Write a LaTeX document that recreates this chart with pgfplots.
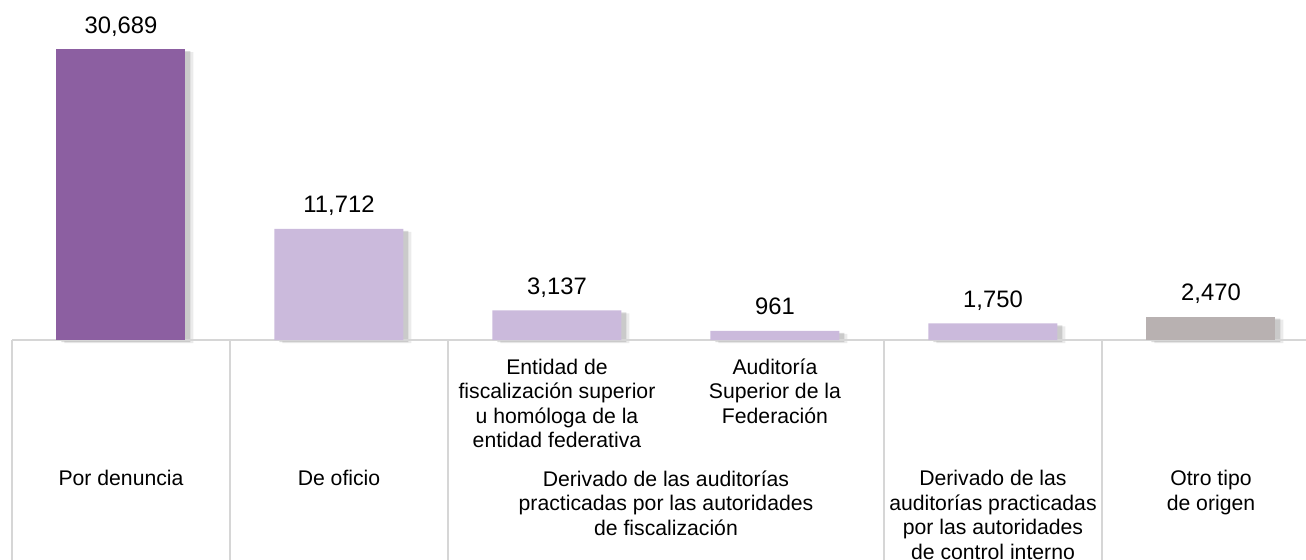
\documentclass[border=0pt]{standalone}
\usepackage{pgfplots}
\pgfplotsset{compat=1.18}
\usepackage{fontspec}
\setmainfont{Liberation Sans}
\definecolor{darkp}{HTML}{8C5FA1}
\definecolor{lightp}{HTML}{CBBADC}
\definecolor{greyb}{HTML}{B8B1B1}
\definecolor{linec}{HTML}{D6D6D6}
\tikzset{cat/.style={font=\fontsize{10.6}{12.25}\selectfont, align=center, inner sep=0pt, text=black}}
\begin{document}
\begin{tikzpicture}
\begin{axis}[
  scale only axis, width=647pt, height=170pt,
  xmin=-0.5, xmax=5.436, ymin=0, ymax=35857,
  axis lines=none, ticks=none, clip=false,
  ybar, bar width=64.5pt,
  /pgf/number format/.cd, 1000 sep={,}, assume math mode=true, fixed,
]
\coordinate (O) at (axis cs:-0.5,0);
\coordinate (T) at (axis cs:5.436,35857);
% shadows
\addplot[ybar, bar shift=4pt, yshift=-1.5pt, fill=black, opacity=0.08, draw=none]
  coordinates {(0,30689)(1,11712)(2,3137)(3,961)(4,1750)(5,2470)};
\addplot[ybar, bar shift=2.5pt, yshift=-1pt, fill=black, opacity=0.14, draw=none]
  coordinates {(0,30689)(1,11712)(2,3137)(3,961)(4,1750)(5,2470)};
% table lines
\draw[linec, line width=1pt] (axis cs:-0.5,0) -- (axis cs:5.436,0);
\pgfplotsinvokeforeach{-0.5,0.5,1.5,3.5,4.5}{
  \draw[linec, line width=1pt] (axis cs:#1,0) -- ([yshift=-110pt]axis cs:#1,0);
}
% bars
\addplot[ybar, bar shift=0pt, fill=darkp, draw=none,
  nodes near coords, every node near coord/.append style={anchor=base, yshift=8pt, font=\fontsize{11.9}{14}\selectfont, text=black}]
  coordinates {(0,30689)};
\addplot[ybar, bar shift=0pt, fill=lightp, draw=none,
  nodes near coords, every node near coord/.append style={anchor=base, yshift=8pt, font=\fontsize{11.9}{14}\selectfont, text=black}]
  coordinates {(1,11712)(2,3137)(3,961)(4,1750)};
\addplot[ybar, bar shift=0pt, fill=greyb, draw=none,
  nodes near coords, every node near coord/.append style={anchor=base, yshift=8pt, font=\fontsize{11.9}{14}\selectfont, text=black}]
  coordinates {(5,2470)};
% category labels
\node[cat, anchor=north] at ([yshift=-65pt]axis cs:0,0) {Por denuncia};
\node[cat, anchor=north] at ([yshift=-65pt]axis cs:1,0) {De oficio};
\node[cat, anchor=north] at ([yshift=-9.2pt]axis cs:2,0) {Entidad de\\fiscalización superior\\u homóloga de la\\entidad federativa};
\node[cat, anchor=north] at ([yshift=-9.2pt]axis cs:3,0) {Auditoría\\Superior de la\\Federación};
\node[cat, anchor=north] at ([yshift=-65pt]axis cs:2.5,0) {Derivado de las auditorías\\practicadas por las autoridades\\de fiscalización};
\node[cat, anchor=north] at ([yshift=-65pt]axis cs:4,0) {Derivado de las\\auditorías practicadas\\por las autoridades\\de control interno};
\node[cat, anchor=north] at ([yshift=-65pt]axis cs:5,0) {Otro tipo\\de origen};
\end{axis}
\pgfresetboundingbox
\path ([xshift=-6pt,yshift=-109.5pt]O) rectangle (T);
\end{tikzpicture}
\end{document}
